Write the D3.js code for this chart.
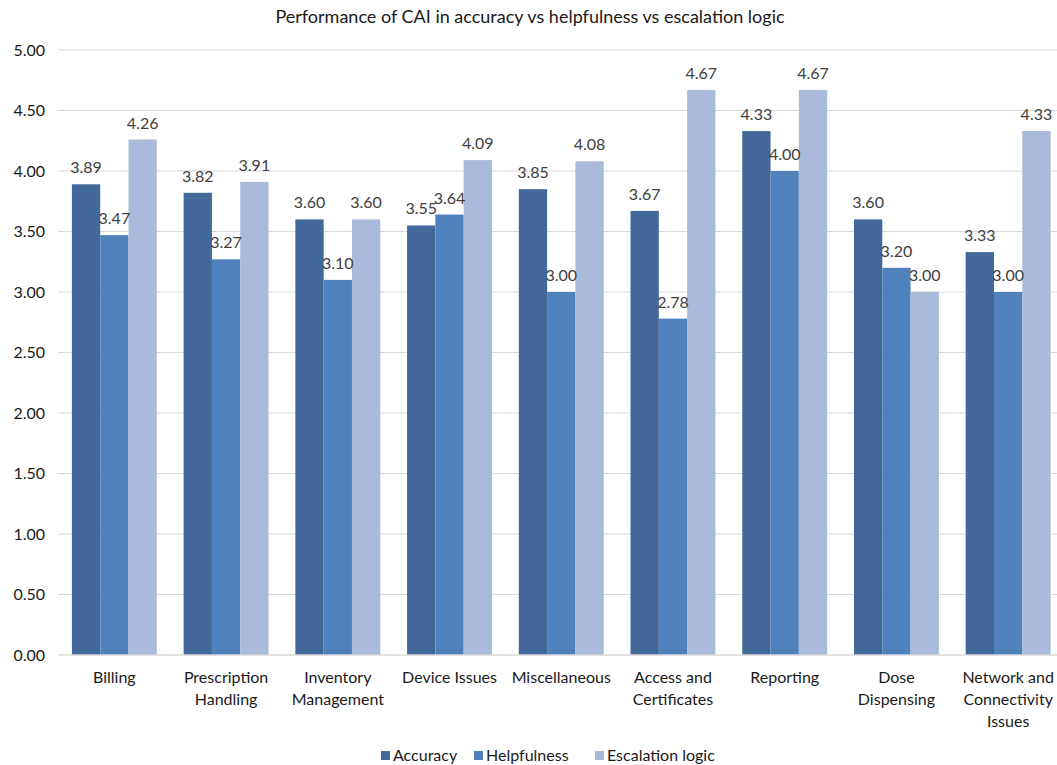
<!DOCTYPE html>
<html>
<head>
<meta charset="utf-8">
<script src="https://cdn.jsdelivr.net/npm/d3@7"></script>
<style>
  html, body { margin: 0; padding: 0; background: #fff; }
  svg { display: block; font-family: Lato, "Open Sans", sans-serif; }
</style>
</head>
<body>
<svg id="chart" width="1057" height="765"></svg>
<script>
// Categories (multi-line labels split on "\n")
const categories = [
  "Billing",
  "Prescription\nHandling",
  "Inventory\nManagement",
  "Device Issues",
  "Miscellaneous",
  "Access and\nCertificates",
  "Reporting",
  "Dose\nDispensing",
  "Network and\nConnectivity\nIssues"
];
const seriesNames = ["Accuracy", "Helpfulness", "Escalation logic"];
const accuracy    = [3.89, 3.82, 3.60, 3.55, 3.85, 3.67, 4.33, 3.60, 3.33];
const helpfulness = [3.47, 3.27, 3.10, 3.64, 3.00, 2.78, 4.00, 3.20, 3.00];
const escalation  = [4.26, 3.91, 3.60, 4.09, 4.08, 4.67, 4.67, 3.00, 4.33];
const yTicks = [0, 0.5, 1, 1.5, 2, 2.5, 3, 3.5, 4, 4.5, 5];
const colors = ["#43689a", "#4f81bd", "#a9badb"];

const seriesValues = [accuracy, helpfulness, escalation];

const svg = d3.select("#chart");
const W = 1057;

const x0 = d3.scaleBand()
  .domain(categories)
  .range([58.5, 1064])
  .paddingInner(0.24)
  .paddingOuter(0.12);

const x1 = d3.scaleBand()
  .domain(seriesNames)
  .range([0, x0.bandwidth()]);

const y = d3.scaleLinear().domain([0, 5]).range([655, 50]);

// Title
svg.append("text")
  .attr("x", 530).attr("y", 23)
  .attr("text-anchor", "middle")
  .attr("font-size", 18)
  .attr("fill", "#1a1a1a")
  .text("Performance of CAI in accuracy vs helpfulness vs escalation logic");

// Gridlines
svg.append("g")
  .selectAll("line")
  .data(yTicks.filter(d => d > 0))
  .join("line")
  .attr("x1", 58).attr("x2", W)
  .attr("y1", d => y(d)).attr("y2", d => y(d))
  .attr("stroke", "#d9d9d9").attr("stroke-width", 1.2);

// Y axis labels
const yAxis = d3.axisLeft(y).tickValues(yTicks).tickFormat(d3.format(".2f")).tickSize(0).tickPadding(0);
const gy = svg.append("g").attr("transform", "translate(45,0)").call(yAxis);
gy.select(".domain").remove();
gy.selectAll("text")
  .attr("font-size", 16)
  .attr("font-family", "Lato, 'Open Sans', sans-serif")
  .attr("fill", "#1a1a1a");

// Bars
const groups = svg.append("g")
  .selectAll("g")
  .data(categories)
  .join("g")
  .attr("transform", d => `translate(${x0(d)},0)`);

groups.selectAll("rect")
  .data((c, i) => seriesNames.map((s, k) => ({ s, k, v: seriesValues[k][i] })))
  .join("rect")
  .attr("x", d => x1(d.s))
  .attr("width", x1.bandwidth())
  .attr("y", d => y(d.v))
  .attr("height", d => y(0) - y(d.v))
  .attr("fill", d => colors[d.k]);

// Value labels
groups.selectAll("text.val")
  .data((c, i) => seriesNames.map((s, k) => ({ s, k, v: seriesValues[k][i] })))
  .join("text")
  .attr("class", "val")
  .attr("x", d => x1(d.s) + x1.bandwidth() / 2)
  .attr("y", d => y(d.v) - 11)
  .attr("text-anchor", "middle")
  .attr("font-size", 16)
  .attr("fill", "#404040")
  .text(d => d3.format(".2f")(d.v));

// X axis baseline
svg.append("line")
  .attr("x1", 58).attr("x2", W)
  .attr("y1", y(0)).attr("y2", y(0))
  .attr("stroke", "#d9d9d9").attr("stroke-width", 1.5);

// Category labels
const xAxis = d3.axisBottom(x0).tickSize(0).tickPadding(0).tickFormat("");
const gx = svg.append("g").attr("transform", `translate(0,${y(0)})`).call(xAxis);
gx.select(".domain").remove();
gx.selectAll(".tick").each(function(d) {
  const t = d3.select(this).append("text")
    .attr("text-anchor", "middle")
    .attr("font-size", 16)
    .attr("font-family", "Lato, 'Open Sans', sans-serif")
    .attr("fill", "#1a1a1a");
  d.split("\n").forEach((line, i) => {
    t.append("tspan").attr("x", 0).attr("y", 28 + i * 22).text(line);
  });
});

// Legend
const legendX = [381, 474, 595];
const legend = svg.append("g")
  .selectAll("g")
  .data(seriesNames)
  .join("g")
  .attr("transform", (d, i) => `translate(${legendX[i]},751)`);
legend.append("rect")
  .attr("width", 9).attr("height", 9)
  .attr("fill", (d, i) => colors[i]);
legend.append("text")
  .attr("x", 12).attr("y", 10)
  .attr("font-size", 16)
  .attr("fill", "#1a1a1a")
  .text(d => d);
</script>
</body>
</html>
